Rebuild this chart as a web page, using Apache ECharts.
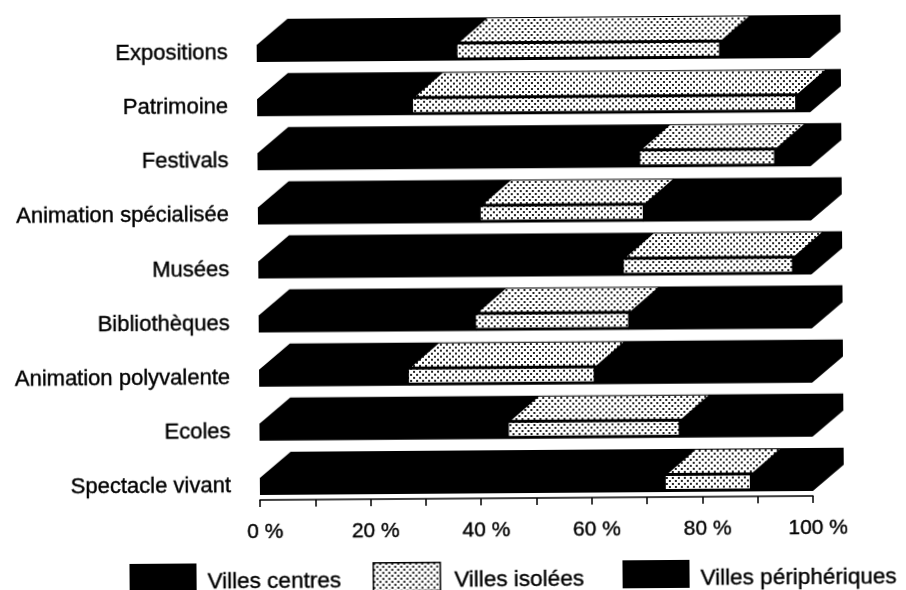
<!DOCTYPE html>
<html><head><meta charset="utf-8">
<style>html,body{margin:0;padding:0;background:#fff;overflow:hidden;width:906px;height:590px}
#c{width:906px;height:610px;transform:rotate(-0.42deg);transform-origin:260px 500px}</style>
<script src="https://cdn.jsdelivr.net/npm/echarts@6/dist/echarts.min.js"></script>
</head><body><div id="c"></div>
<script>
const categories = ['Expositions','Patrimoine','Festivals','Animation spécialisée','Musées','Bibliothèques','Animation polyvalente','Ecoles','Spectacle vivant'];
const villesCentres = [36.3,28.2,69.2,40.3,66.1,39.3,27.1,45.1,73.4];
const villesIsolees = [47.3,69.1,24.2,29.3,30.4,27.5,33.4,30.7,15.2];
const villesPeripheriques = [16.4,2.7,6.6,30.4,3.5,33.2,39.5,24.2,11.4];
const xTicks = [0,20,40,60,80,100];

const tile = document.createElement('canvas');
tile.width = 6; tile.height = 6;
(function(){
  const g = tile.getContext('2d');
  g.fillStyle = '#fff'; g.fillRect(0,0,6,6);
  g.fillStyle = '#222';
  g.fillRect(0,0,2,2); g.fillRect(3,3,2,2);
})();
const dotted = {image: tile, repeat: 'repeat'};

function segment(dotFill){
  return function(params, api){
    const a = api.coord([api.value(0), api.value(2)]);
    const b = api.coord([api.value(1), api.value(2)]);
    const x0 = a[0], x1 = b[0], fb = a[1] + 22;
    const kids = [{
      type:'polygon',
      shape:{points:[[x0,fb],[x1,fb],[x1+31,fb-26],[x1+31,fb-43],[x0+31,fb-43],[x0,fb-17]]},
      style:{fill:'#000'}
    }];
    if (dotFill) {
      kids.push({type:'rect',shape:{x:x0,y:fb-16,width:x1-x0,height:13},style:{fill:dotted}});
      kids.push({type:'polygon',shape:{points:[[x0+3,fb-19],[x1+3,fb-19],[x1+30,fb-42],[x0+30,fb-42]]},style:{fill:dotted}});
    }
    return {type:'group',children:kids};
  };
}
function rows(startArr, valArr){
  return valArr.map((v,i)=>[startArr[i], startArr[i]+v, i]);
}
const zeros = categories.map(()=>0);
const afterIsolees = villesCentres.map((v,i)=>v+villesIsolees[i]);

const heavy = {textBorderColor:'#000',textBorderWidth:0.4};
function leg(name,left,pad,extra){
  return Object.assign({data:[name],left:left,top:563,itemWidth:67,itemHeight:28,icon:'rect',selectedMode:false,
    padding:0,formatter:'{t|{name}}',
    textStyle:{rich:{t:Object.assign({color:'#000',fontFamily:'Liberation Sans',fontSize:22.5,padding:[9,0,0,pad]},heavy)}}},extra||{});
}
const chart = echarts.init(document.getElementById('c'),null,{renderer:'canvas'});
chart.setOption({
  animation:false,
  backgroundColor:'#fff',
  grid:{left:260,top:13,width:553,height:487},
  legend:[
    leg('Villes centres',129,6),
    leg('Villes isolées',372,9,{itemStyle:{borderColor:'#000',borderWidth:1.5}}),
    leg('Villes périphériques',622,6)
  ],
  xAxis:{type:'value',min:0,max:100,interval:10,
    axisLine:{show:true,lineStyle:{color:'#000',width:1.5}},
    axisTick:{show:true,length:7,inside:false,lineStyle:{color:'#000',width:1.5}},
    splitLine:{show:false},
    axisLabel:Object.assign({margin:22,color:'#000',fontFamily:'Liberation Sans',fontSize:21,padding:[0,0,0,10],
      formatter:v=>xTicks.includes(v)?v+' %':''},heavy)
  },
  yAxis:{type:'category',data:categories,inverse:true,
    axisLine:{show:false},axisTick:{show:false},
    axisLabel:Object.assign({margin:29,color:'#000',fontFamily:'Liberation Sans',fontSize:22,verticalAlign:'top',lineHeight:26,interval:0},heavy)
  },
  series:[
    {name:'Villes centres',type:'custom',clip:false,renderItem:segment(false),itemStyle:{color:'#000'},encode:{x:[0,1],y:2},data:rows(zeros,villesCentres)},
    {name:'Villes périphériques',type:'custom',clip:false,renderItem:segment(false),itemStyle:{color:'#000'},encode:{x:[0,1],y:2},data:rows(afterIsolees,villesPeripheriques)},
    {name:'Villes isolées',type:'custom',clip:false,renderItem:segment(true),itemStyle:{color:dotted},encode:{x:[0,1],y:2},data:rows(villesCentres,villesIsolees)}
  ]
});
</script></body></html>
